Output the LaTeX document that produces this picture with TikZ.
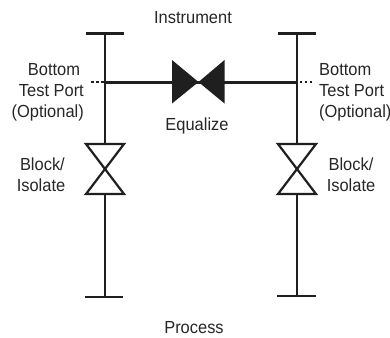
\documentclass[tikz,border=0pt]{standalone}
\usepackage{fontspec}
\setmainfont{Liberation Sans}
\usepackage{tikz}
\usetikzlibrary{calc}
\tikzset{
	pipe/.style={line width=2.4pt,color=black!88},
	header/.style={line width=3pt,color=black!88},
	port/.style={line width=2pt,color=black!88,dash pattern=on 2.5pt off 2.5pt},
	valveopen/.style={line width=2.2pt,color=black!88,line join=miter},
	valvefull/.style={fill=black!88,draw=none},
	lab/.style={font=\fontsize{17.5}{21}\selectfont,color=black!85,xscale=0.94,inner sep=0pt}
}
\begin{document}
\begin{tikzpicture}[x=1pt,y=-1pt]
	\useasboundingbox (0,0) rectangle (390,337);
	%左の配管
	\coordinate (LT) at (105,33.5);
	\coordinate (LB) at (105,297);
	\coordinate (LP) at (105,82);
	\coordinate (LD) at (91,82);
	\coordinate (LV) at (105,169);
	%右の配管
	\coordinate (RT) at (297,33.5);
	\coordinate (RB) at (297,296);
	\coordinate (RP) at (297,82);
	\coordinate (RD) at (312,82);
	\coordinate (RV) at (297,169);
	%均圧弁
	\coordinate (EQ) at (198.5,82);
	\draw[pipe] (LT)--(LV);
	\draw[pipe] (LV)--(LB);
	\draw[pipe] (RT)--(RV);
	\draw[pipe] (RV)--(RB);
	\draw[pipe] ($(LT)+(-19,0)$)--($(LT)+(19,0)$);
	\draw[pipe] ($(RT)+(-19,0)$)--($(RT)+(19,0)$);
	\draw[pipe] ($(LB)+(-20,0)$)--($(LB)+(18,0)$);
	\draw[pipe] ($(RB)+(-20,0)$)--($(RB)+(19,0)$);
	\draw[port] (LD)--(LP);
	\draw[port] (RD)--(RP);
	\draw[header] (LP)--(EQ);
	\draw[header] (EQ)--(RP);
	\fill[valvefull] (172,60)--(EQ)--(172,103.5)--cycle;
	\fill[valvefull] (224.5,60)--(EQ)--(224.5,103.5)--cycle;
	\foreach \v in {LV,RV}{
		\draw[valveopen,fill=white] ($(\v)+(-19,-25)$)--($(\v)+(19,-25)$)--($(\v)+(-19,25)$)--($(\v)+(19,25)$)--cycle;
	}
	\node[lab] (instrument) at (193,18) {Instrument};
	\node[lab] (process) at (194,328) {Process};
	\node[lab] (equalize) at (197,126) {Equalize};
	\node[lab,align=right,anchor=east] (bottomL) at (84,92.5) {Bottom\hspace*{4pt}\\Test Port\hspace*{4pt}\\(Optional)};
	\node[lab,align=left,anchor=west] (bottomR) at (319,92.5) {Bottom\\Test Port\\(Optional)};
	\node[lab,align=center] (blockL) at (41,174.5) {\hspace*{3pt}Block/\\Isolate};
	\node[lab,align=center] (blockR) at (351,174.5) {Block/\\Isolate};
\end{tikzpicture}
\end{document}
